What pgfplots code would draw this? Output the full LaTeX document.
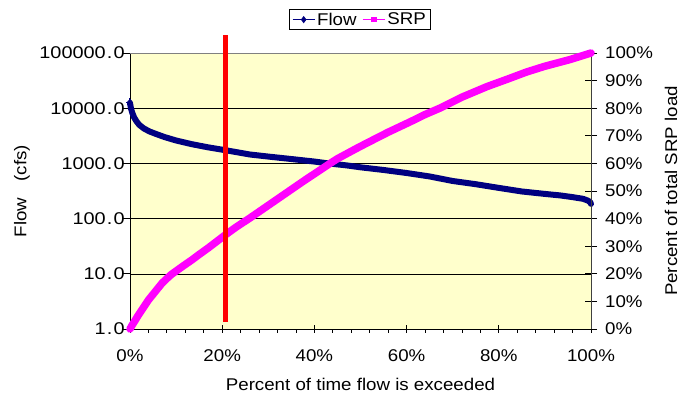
\documentclass[border=0pt]{standalone}
\usepackage{fontspec}
\setmainfont{Liberation Sans}[FakeStretch=1.1]
\newfontfamily\widefont{Liberation Sans}[FakeStretch=1.17]
\usepackage{pgfplots}
\pgfplotsset{compat=1.18}
\definecolor{flowblue}{RGB}{0,0,128}
\definecolor{srpmag}{RGB}{255,0,255}
\definecolor{plotbg}{RGB}{255,255,204}
\newcommand{\cf}{\fontsize{17bp}{20bp}\selectfont}
\newcommand{\dt}{\kern1.2bp.\kern1.2bp}
\begin{document}
\begin{tikzpicture}
\path[use as bounding box] (-130bp,-68bp) rectangle (563bp,329bp);
\begin{axis}[
  at={(0,0)}, anchor=south west,
  scale only axis, width=461bp, height=276bp,
  xmin=0, xmax=100, ymode=log, ymin=1, ymax=100000,
  clip=false,
  axis x line*=bottom, axis y line*=left,
  axis line style={black, line width=0.8bp, -},
  axis background/.style={fill=plotbg},
  ymajorgrids, major grid style={black, line width=0.6bp},
  xtick={0,20,...,100}, xticklabels={0\%,20\%,40\%,60\%,80\%,100\%},
  minor x tick num=4,
  ytick={1,10,100,1000,10000,100000},
  yticklabels={1\dt0,10\dt0,100\dt0,1000\dt0,10000\dt0,100000\dt0},
  yminorticks=false,
  xtick align=center, ytick align=outside,
  major tick length=8bp, minor tick length=4bp,
  tick style={black, line width=0.8bp},
  every minor x tick/.append style={yshift=-2bp},
  tick label style={font=\cf},
  /pgf/number format/assume math mode=true,
  xticklabel style={anchor=north, inner sep=0pt, yshift=-16bp},
  yticklabel style={anchor=east, inner sep=0pt, xshift=3bp, font=\cf\widefont},
  xlabel={Percent of time flow is exceeded},
  ylabel={Flow\hspace{11bp} (cfs)},
  every axis x label/.style={at={(axis description cs:0.5,0)}, yshift=-55bp, anchor=center, font=\cf},
  every axis y label/.style={at={(axis description cs:0,0.5)}, xshift=-108bp, rotate=90, anchor=center, font=\cf},
]
\addplot[flowblue, line width=6bp, line cap=round, line join=round, mark=diamond*, mark size=4bp, mark indices={1}, mark options={line width=0bp}] coordinates {
(0,12500) (0.2,10000) (0.5,8200) (0.9,6800) (1.4,5800) (2,5000) (3,4300)
(4.2,3800) (5.5,3450) (7.5,3000) (10,2600) (13.4,2230) (17,1950) (20.6,1740)
(26,1450) (30,1330) (35,1200) (40,1080) (43,1000) (47,920) (50,850) (55,760)
(60,670) (65,580) (70,480) (75,420) (80,360) (85,310) (90,280) (93.3,263)
(96,245) (98.3,228) (99.3,212) (99.8,200) (100,185)
};
\draw[gray, line width=0.8bp] (rel axis cs:0,1) -- (rel axis cs:1,1);
\end{axis}
\begin{axis}[
  at={(0,0)}, anchor=south west,
  scale only axis, width=461bp, height=276bp,
  xmin=0, xmax=100, ymin=0, ymax=100,
  clip=false,
  axis x line=none, axis y line*=right,
  axis line style={black!75, line width=0.8bp, -},
  ytick={0,10,...,100},
  yticklabels={0\%,10\%,20\%,30\%,40\%,50\%,60\%,70\%,80\%,90\%,100\%},
  ytick align=center, major tick length=12bp,
  tick style={black, line width=0.8bp},
  tick label style={font=\cf},
  /pgf/number format/assume math mode=true,
  yticklabel style={anchor=west, inner sep=0pt, xshift=8bp},
  ylabel={Percent of total SRP load},
  every axis y label/.style={at={(axis description cs:1,0.5)}, xshift=80bp, rotate=90, anchor=center, font=\cf},
  legend style={at={(0.499,1.121)}, anchor=center, legend columns=2, draw=black, line width=0.8bp, font=\cf, inner xsep=3bp, inner ysep=1bp},
  legend cell align=left,
  /tikz/every even column/.append style={column sep=4bp},
  legend image code/.code={\draw[mark repeat=2, mark phase=2] plot coordinates {(0bp,0bp) (11bp,0bp) (22bp,0bp)};},
]
\addplot[srpmag, line width=7.5bp, line cap=round, line join=round, forget plot] coordinates {
(0,0) (0.5,1.5) (1,2.8) (1.8,5) (3,8) (4,10.5) (5.5,13.6) (6.9,16.5) (8,18.3)
(9,19.8) (10,21) (11.5,22.8) (13.4,25) (15,27) (17,29.4) (20.6,34)
(23,36.9) (26,40.2) (30,44.8) (33.3,48.6) (38,54) (43.4,60) (45,61.7) (47,63.5)
(49,65.3) (51.3,67.3) (56,71.3) (60.7,75) (64,77.7) (67.2,80) (72,84)
(77.4,87.8) (82,90.6) (86,93.1) (90,95.2) (95.4,97.6) (100,100)
};
\addplot[red, line width=5bp, forget plot] coordinates {(20.8,2.5) (20.8,106.5)};
\addlegendimage{flowblue, line width=0.8bp, mark=diamond*, mark size=3bp}
\addlegendentry{Flow}
\addlegendimage{srpmag, line width=0.8bp, mark=square*, mark size=2.2bp}
\addlegendentry{SRP}
\end{axis}
\end{tikzpicture}
\end{document}
